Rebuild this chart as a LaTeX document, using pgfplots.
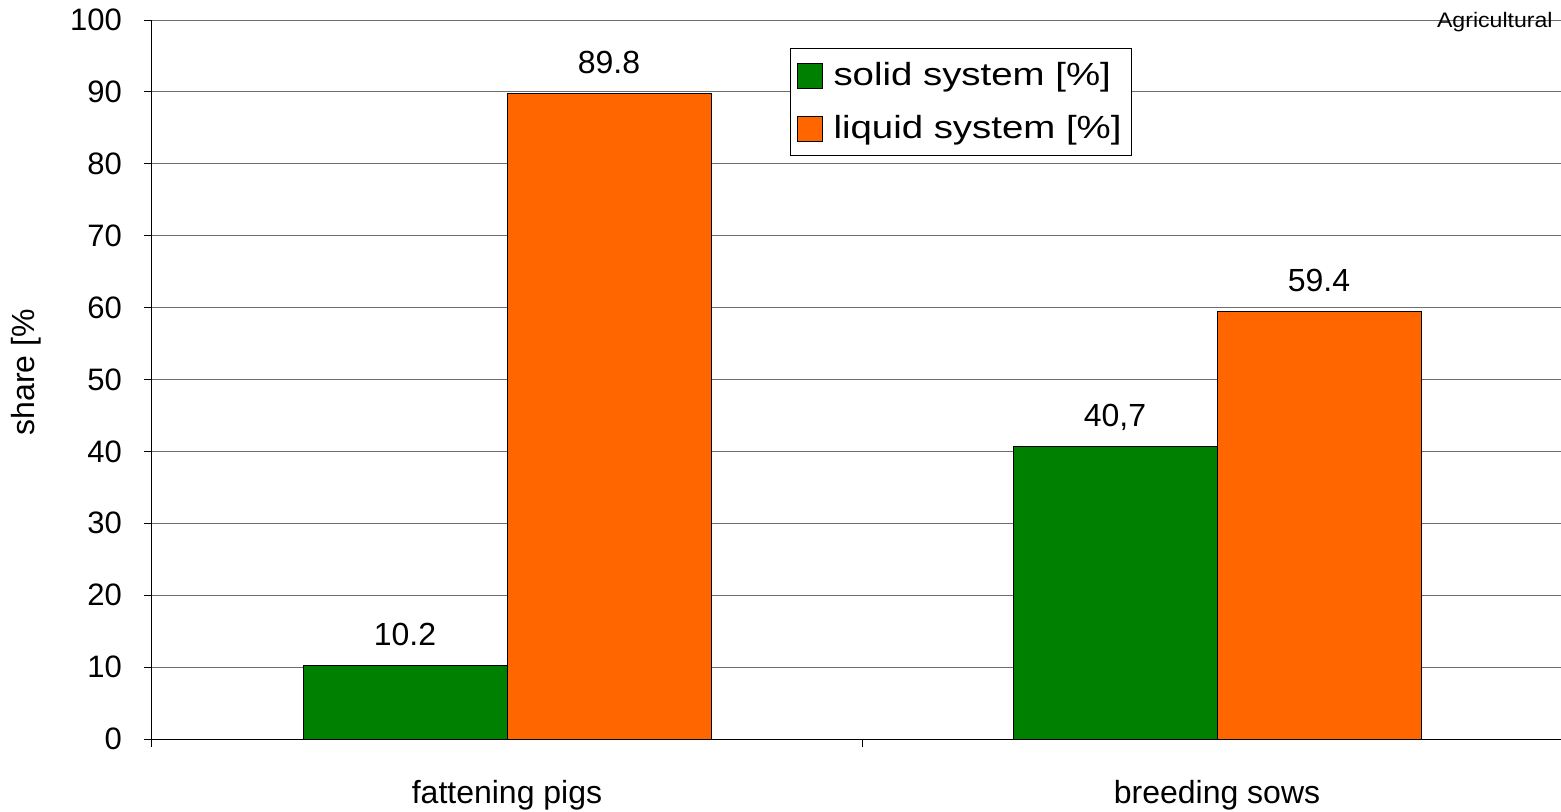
\documentclass[border=0pt]{standalone}
\usepackage{pgfplots}
\pgfplotsset{compat=1.18}
\usepackage{fontspec}
\setmainfont{Liberation Sans}
\usepackage{graphicx}
\definecolor{solidgreen}{RGB}{0,128,0}
\definecolor{liqorange}{RGB}{255,102,0}
\definecolor{gridgray}{RGB}{110,110,110}
\begin{document}
\begin{tikzpicture}
\begin{axis}[
  at={(0,0)}, anchor=south west,
  scale only axis, width=710pt, height=359.5pt,
  xmin=-0.5, xmax=1.5, ymin=0, ymax=100,
  ybar=0pt, bar width=102pt,
  axis x line*=bottom, axis y line*=left,
  axis line style={black, line width=0.5pt},
  xtick={-0.5,0.5,1.5}, xticklabels={},
  extra x ticks={0,1},
  extra x tick labels={fattening pigs, breeding sows},
  extra x tick style={major tick length=0pt,
     xticklabel style={anchor=base, yshift=-32pt}},
  xticklabel style={font=\fontsize{16}{19}\selectfont},
  ytick={0,10,...,100},
  ymajorgrids,
  grid style={gridgray, line width=0.5pt},
  tick style={black, line width=0.5pt},
  tick align=outside, major tick length=4pt,
  yticklabel style={font=\fontsize{15.5}{18}\selectfont, xshift=-7.5pt, /pgf/number format/assume math mode=true},
  ylabel={share [\%},
  ylabel style={at={(axis description cs:-0.0887,0.51)}, anchor=center, font=\fontsize{16}{19}\selectfont},
  every node near coord/.append style={font=\fontsize{16}{19}\selectfont, anchor=base, yshift=10pt, black},
  legend style={at={(rel axis cs:0.4493,0.961)}, anchor=north west, draw=black, line width=0.5pt,
     font=\fontsize{16}{19}\selectfont, row sep=9.5pt, inner ysep=5pt},
  legend cell align=left,
]
\addplot[fill=solidgreen, draw=black, line width=0.5pt,
  nodes near coords, point meta=explicit symbolic,
  legend image code/.code={\draw[fill=solidgreen, draw=black, line width=0.5pt] (2pt,-6.25pt) rectangle (14.5pt,6.25pt); \path (18pt,0pt);}]
  coordinates {(0,10.2) [10.2] (1,40.7) [{40,7}]};
\addlegendentry{\scalebox{1.2}[1]{solid system [\%]}}
\addplot[fill=liqorange, draw=black, line width=0.5pt,
  nodes near coords, point meta=explicit symbolic,
  legend image code/.code={\draw[fill=liqorange, draw=black, line width=0.5pt] (2pt,-6.25pt) rectangle (14.5pt,6.25pt); \path (18pt,0pt);}]
  coordinates {(0,89.8) [89.8] (1,59.4) [59.4]};
\addlegendentry{\scalebox{1.2}[1]{liquid system [\%]}}
\end{axis}
\node[anchor=base east, font=\fontsize{10.5}{12}\selectfont, inner sep=0pt] at (700.5pt,356pt) {\scalebox{1.1}[1]{Agricultural}};
\pgfresetboundingbox
\path[use as bounding box] (-76pt,-36pt) rectangle (704.5pt,369.5pt);
\end{tikzpicture}
\end{document}
